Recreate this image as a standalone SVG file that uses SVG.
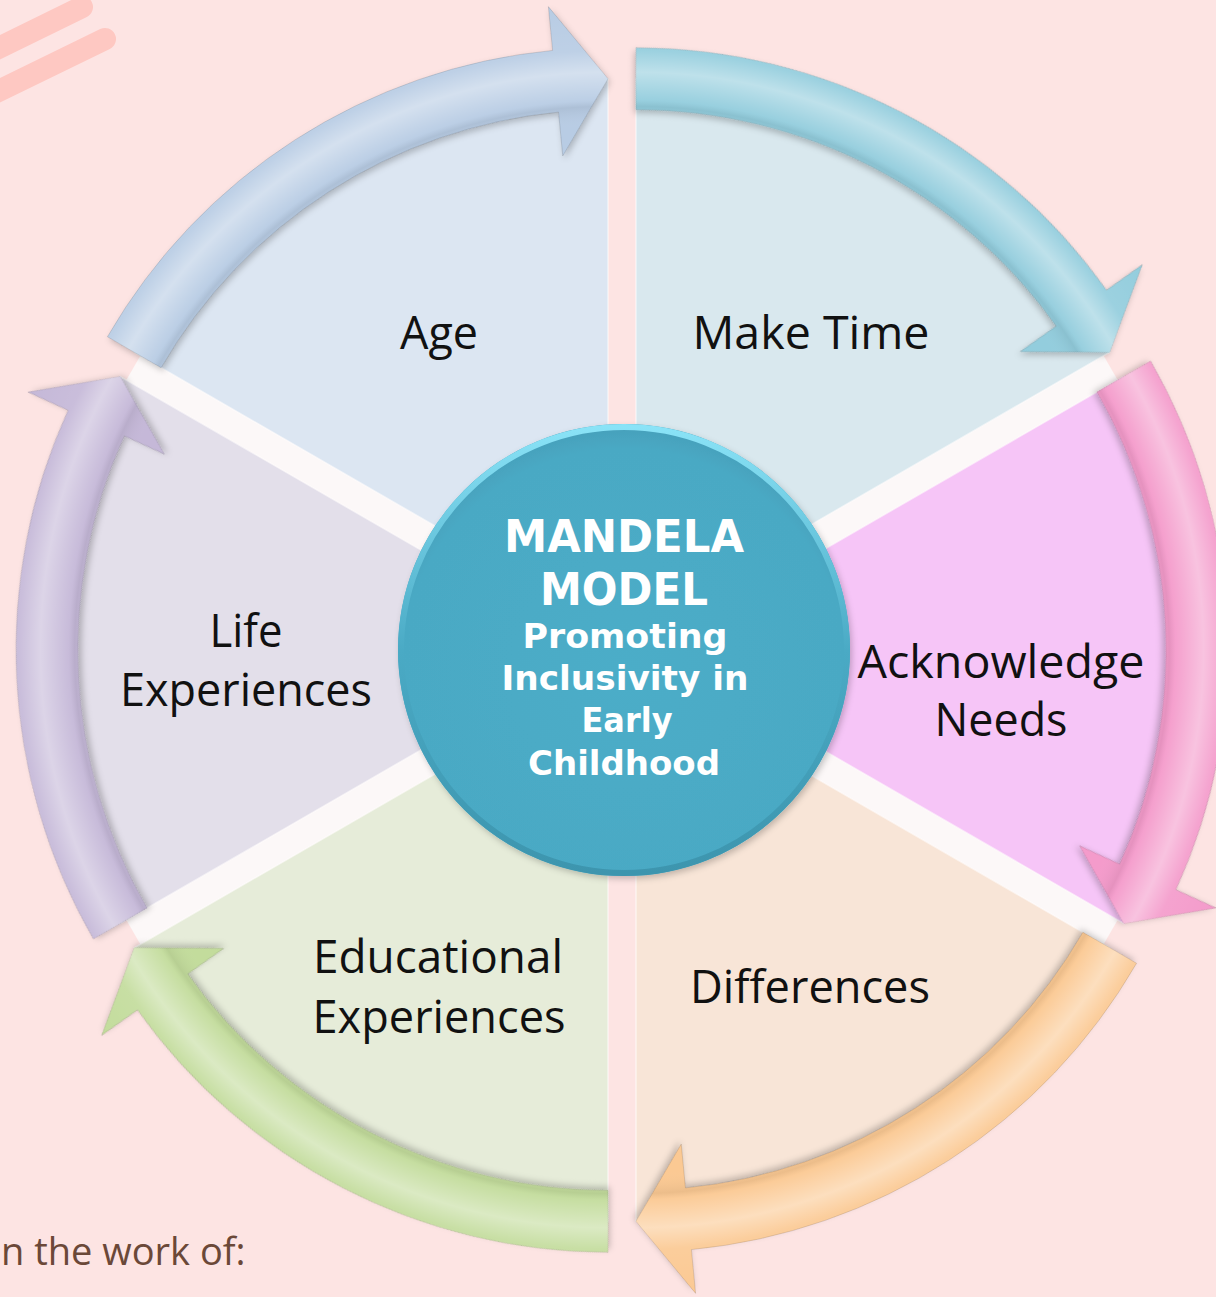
<svg xmlns="http://www.w3.org/2000/svg" xmlns:xlink="http://www.w3.org/1999/xlink" width="1216" height="1297" viewBox="0 0 1216 1297">
<style>
.lbl{font-family:"Open Sans","Liberation Sans",sans-serif;font-size:45px;fill:#111111;text-anchor:middle}
.ctr{font-family:"DejaVu Sans","Liberation Sans",sans-serif;font-weight:bold;fill:#ffffff;text-anchor:middle}
.big{font-size:44px}
.sub{font-size:33px}
.wedge{stroke:#ffffff;stroke-opacity:0.55;stroke-width:1.5}
.arrow{stroke:#000000;stroke-opacity:0.12;stroke-width:1}
.strip{fill:#fcf9f9;fill-opacity:0.9}
.deco{fill:none;stroke:#fec8c2;stroke-width:22;stroke-linecap:round}
</style>
<defs>
<path id="wedge" d="M 0 0 L -473.72 -273.5 A 547 547 0 0 1 0 -547 Z"/>
<path id="arrow" d="M -500.56 -289 A 578 578 0 0 1 -55.40 -575.34 L -59.62 -619.14 L 0 -547 L -45.24 -469.83 L -49.46 -513.63 A 516 516 0 0 0 -446.87 -258 Z"/>
<radialGradient id="tube" gradientUnits="userSpaceOnUse" cx="0" cy="0" r="622">
<stop offset="0" stop-color="#ffffff" stop-opacity="0"/>
<stop offset="0.80" stop-color="#ffffff" stop-opacity="0"/>
<stop offset="0.835" stop-color="#000000" stop-opacity="0.06"/>
<stop offset="0.845" stop-color="#ffffff" stop-opacity="0.05"/>
<stop offset="0.89" stop-color="#ffffff" stop-opacity="0.4"/>
<stop offset="0.925" stop-color="#ffffff" stop-opacity="0.08"/>
<stop offset="1" stop-color="#ffffff" stop-opacity="0"/>
</radialGradient>
<linearGradient id="rim" x1="0" y1="0" x2="0" y2="1">
<stop offset="0" stop-color="#8ae3f7"/>
<stop offset="0.5" stop-color="#4aaac5"/>
<stop offset="1" stop-color="#3d95ae"/>
</linearGradient>
<radialGradient id="disc" cx="0.5" cy="0.55" r="0.55">
<stop offset="0" stop-color="#4cadc8"/>
<stop offset="0.9" stop-color="#4aa9c4"/>
<stop offset="1" stop-color="#459fba"/>
</radialGradient>
<filter id="sh" x="-15%" y="-15%" width="130%" height="130%">
<feDropShadow dx="2" dy="3" stdDeviation="3" flood-color="#000000" flood-opacity="0.22"/>
</filter>
</defs>

<rect x="0" y="0" width="1216" height="1297" fill="#fde4e3"/>
<line class="deco" x1="-20" y1="57" x2="82" y2="7"/>
<line class="deco" x1="-20" y1="100" x2="105" y2="39"/>

<g id="gaps">
<polygon class="strip" points="434.8,525.75 420.8,550 126.34,380 140.34,355.75"/>
<polygon class="strip" points="809.2,525.75 823.2,550 1117.66,380 1103.66,355.75"/>
<polygon class="strip" points="823.2,750 809.2,774.25 1103.66,944.25 1117.66,920"/>
<polygon class="strip" points="420.8,750 434.8,774.25 140.34,944.25 126.34,920"/>
</g>

<g id="node-age">
<use xlink:href="#wedge" href="#wedge" class="wedge" fill="#dce6f2" transform="translate(608,625.75)"/>
<text class="lbl" x="439" y="349" textLength="78" lengthAdjust="spacingAndGlyphs">Age</text>
</g>
<g id="node-make-time">
<use xlink:href="#wedge" href="#wedge" class="wedge" fill="#d9e8ee" transform="translate(636,625.75) rotate(60)"/>
<text class="lbl" x="811" y="349" textLength="237" lengthAdjust="spacingAndGlyphs">Make Time</text>
</g>
<g id="node-acknowledge-needs">
<use xlink:href="#wedge" href="#wedge" class="wedge" fill="#f6c5f7" transform="translate(650,650) rotate(120)"/>
<text class="lbl" x="1001" y="678" textLength="287" lengthAdjust="spacingAndGlyphs">Acknowledge</text>
<text class="lbl" x="1001" y="736" textLength="133" lengthAdjust="spacingAndGlyphs">Needs</text>
</g>
<g id="node-differences">
<use xlink:href="#wedge" href="#wedge" class="wedge" fill="#f8e5d7" transform="translate(636,674.25) rotate(180)"/>
<text class="lbl" x="810" y="1003" textLength="240" lengthAdjust="spacingAndGlyphs">Differences</text>
</g>
<g id="node-educational-experiences">
<use xlink:href="#wedge" href="#wedge" class="wedge" fill="#e6ecd9" transform="translate(608,674.25) rotate(240)"/>
<text class="lbl" x="438" y="973" textLength="250" lengthAdjust="spacingAndGlyphs">Educational</text>
<text class="lbl" x="439" y="1033" textLength="253" lengthAdjust="spacingAndGlyphs">Experiences</text>
</g>
<g id="node-life-experiences">
<use xlink:href="#wedge" href="#wedge" class="wedge" fill="#e3dfea" transform="translate(594,650) rotate(300)"/>
<text class="lbl" x="246" y="647" textLength="73" lengthAdjust="spacingAndGlyphs">Life</text>
<text class="lbl" x="246" y="706" textLength="252" lengthAdjust="spacingAndGlyphs">Experiences</text>
</g>

<g id="connectors">
<g transform="translate(608,625.75)">
<use xlink:href="#arrow" href="#arrow" class="arrow" fill="#b8cce4" filter="url(#sh)"/>
<use xlink:href="#arrow" href="#arrow" fill="url(#tube)"/>
</g>
<g transform="translate(636,625.75) rotate(60)">
<use xlink:href="#arrow" href="#arrow" class="arrow" fill="#93cddd" filter="url(#sh)"/>
<use xlink:href="#arrow" href="#arrow" fill="url(#tube)"/>
</g>
<g transform="translate(650,650) rotate(120)">
<use xlink:href="#arrow" href="#arrow" class="arrow" fill="#f49bcb" filter="url(#sh)"/>
<use xlink:href="#arrow" href="#arrow" fill="url(#tube)"/>
</g>
<g transform="translate(636,674.25) rotate(180)">
<use xlink:href="#arrow" href="#arrow" class="arrow" fill="#fbc993" filter="url(#sh)"/>
<use xlink:href="#arrow" href="#arrow" fill="url(#tube)"/>
</g>
<g transform="translate(608,674.25) rotate(240)">
<use xlink:href="#arrow" href="#arrow" class="arrow" fill="#c3dc9c" filter="url(#sh)"/>
<use xlink:href="#arrow" href="#arrow" fill="url(#tube)"/>
</g>
<g transform="translate(594,650) rotate(300)">
<use xlink:href="#arrow" href="#arrow" class="arrow" fill="#c5b8d8" filter="url(#sh)"/>
<use xlink:href="#arrow" href="#arrow" fill="url(#tube)"/>
</g>
</g>

<g id="node-center">
<circle cx="624" cy="650" r="226" fill="url(#disc)" filter="url(#sh)"/>
<circle cx="624" cy="650" r="223" fill="none" stroke="url(#rim)" stroke-width="6"/>
<text class="ctr big" x="624" y="552" textLength="240" lengthAdjust="spacingAndGlyphs">MANDELA</text>
<text class="ctr big" x="624" y="605" textLength="168" lengthAdjust="spacingAndGlyphs">MODEL</text>
<text class="ctr sub" x="625" y="648" textLength="205" lengthAdjust="spacingAndGlyphs">Promoting</text>
<text class="ctr sub" x="625" y="690" textLength="247" lengthAdjust="spacingAndGlyphs">Inclusivity in</text>
<text class="ctr sub" x="627" y="732" textLength="91" lengthAdjust="spacingAndGlyphs">Early</text>
<text class="ctr sub" x="624" y="775" textLength="192" lengthAdjust="spacingAndGlyphs">Childhood</text>
</g>

<text x="1" y="1265" font-family="'Open Sans','Liberation Sans',sans-serif" font-size="38" fill="#6b4838">n the work of:</text>
</svg>
